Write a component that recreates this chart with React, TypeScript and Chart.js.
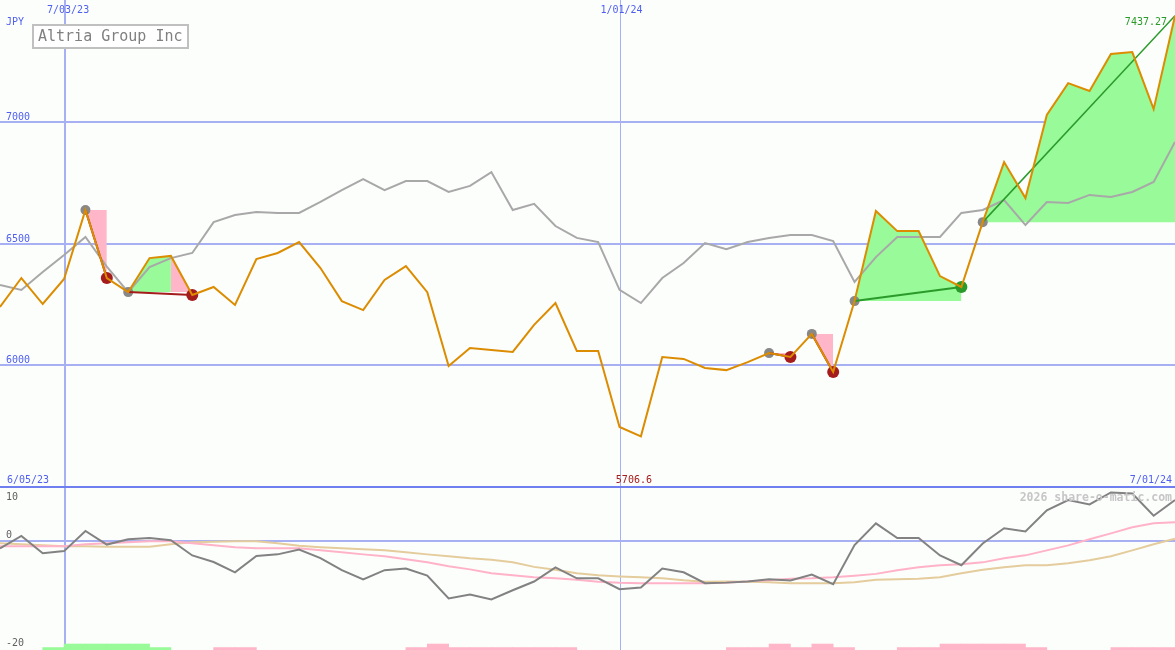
import React, { useEffect, useRef } from "react";
import { Chart, registerables } from "chart.js";

Chart.register(...registerables);

// ---------- data ----------
const weeks = [
  "6/12/23", "6/19/23", "6/26/23", "7/03/23", "7/10/23", "7/17/23", "7/24/23", "7/31/23",
  "8/07/23", "8/14/23", "8/21/23", "8/28/23", "9/04/23", "9/11/23", "9/18/23", "9/25/23",
  "10/02/23", "10/09/23", "10/16/23", "10/23/23", "10/30/23", "11/06/23", "11/13/23", "11/20/23",
  "11/27/23", "12/04/23", "12/11/23", "12/18/23", "12/25/23", "1/01/24", "1/08/24", "1/15/24",
  "1/22/24", "1/29/24", "2/05/24", "2/12/24", "2/19/24", "2/26/24", "3/04/24", "3/11/24",
  "3/18/24", "3/25/24", "4/01/24", "4/08/24", "4/15/24", "4/22/24", "4/29/24", "5/06/24",
  "5/13/24", "5/20/24", "5/27/24", "6/03/24", "6/10/24", "6/17/24", "6/24/24", "7/01/24",
];

const closePrice = [
  6239, 6358, 6251, 6354, 6638, 6358, 6300, 6440, 6449, 6288, 6321, 6247, 6436, 6461,
  6506, 6399, 6263, 6226, 6350, 6407, 6300, 5996, 6070, 6062, 6054, 6165, 6255, 6058,
  6058, 5745, 5706.6, 6033, 6025, 5988, 5979, 6012, 6049, 6033, 6128, 5971, 6263, 6634,
  6551, 6551, 6366, 6321, 6588, 6835, 6687, 7029, 7160, 7128, 7280, 7288, 7053, 7437.27,
];

const trendLine = [
  6329, 6309, 6383, 6453, 6527, 6405, 6300, 6403, 6440, 6461, 6588, 6617, 6630, 6626,
  6626, 6671, 6720, 6765, 6720, 6757, 6757, 6712, 6737, 6794, 6638, 6663, 6572, 6523,
  6506, 6309, 6255, 6358, 6420, 6502, 6477, 6506, 6523, 6535, 6535, 6510, 6342, 6444,
  6527, 6527, 6527, 6626, 6638, 6679, 6576, 6671, 6667, 6700, 6691, 6712, 6753, 6918,
];

const momentum = [
  -1.3, 1.0, -2.2, -1.8, 1.9, -0.6, 0.4, 0.6, 0.2, -2.6, -3.8, -5.7, -2.7, -2.4,
  -1.5, -3.1, -5.3, -7.0, -5.3, -5.0, -6.3, -10.5, -9.8, -10.7, -9.0, -7.4, -4.8, -6.8,
  -6.8, -8.8, -8.5, -5.0, -5.7, -7.7, -7.6, -7.4, -7.0, -7.2, -6.1, -7.9, -0.7, 3.3,
  0.6, 0.6, -2.6, -4.4, -0.4, 2.4, 1.8, 5.7, 7.6, 6.8, 9.0, 8.8, 4.7, 7.6,
];

const momentumFast = [
  -0.92, -0.92, -0.92, -0.92, -0.55, -0.37, -0.18, 0, 0, -0.37, -0.74, -1.1, -1.29, -1.29,
  -1.29, -1.66, -2.03, -2.4, -2.76, -3.31, -3.87, -4.6, -5.16, -5.89, -6.26, -6.63, -6.81, -7.09,
  -7.46, -7.64, -7.73, -7.73, -7.73, -7.73, -7.64, -7.37, -7.18, -6.9, -6.81, -6.63, -6.35, -5.99,
  -5.34, -4.79, -4.42, -4.24, -3.87, -3.13, -2.58, -1.66, -0.74, 0.37, 1.47, 2.58, 3.31, 3.5,
];

const momentumSlow = [
  -0.37, -0.55, -0.74, -0.92, -0.92, -1.01, -1.01, -1.01, -0.55, -0.18, -0.09, 0, 0, -0.37,
  -0.83, -1.1, -1.29, -1.47, -1.66, -2.03, -2.4, -2.76, -3.13, -3.41, -3.87, -4.7, -5.25, -5.89,
  -6.26, -6.45, -6.63, -6.81, -7.18, -7.46, -7.37, -7.46, -7.55, -7.73, -7.73, -7.73, -7.55, -7.09,
  -7.0, -6.9, -6.63, -5.89, -5.25, -4.79, -4.42, -4.42, -4.05, -3.5, -2.76, -1.66, -0.55, 0.46,
];

// signal strip per week interval: positive = green, negative = pink
const signalStrip = [
  0, 0, 0.45, 1.1, 1.1, 1.1, 1.1, 0.45, 0, 0, -0.45, -0.45, 0, 0,
  0, 0, 0, 0, 0, -0.45, -1.1, -0.45, -0.45, -0.45, -0.45, -0.45, -0.45, 0,
  0, 0, 0, 0, 0, 0, -0.45, -0.45, -1.1, -0.45, -1.1, -0.45, 0, 0,
  -0.45, -0.45, -1.1, -1.1, -1.1, -1.1, -0.45, 0, 0, 0, -0.45, -0.45, -0.45,
];

const tradeEntry = [4, 6, 36, 38, 40, 46];
const tradeExit = [5, 9, 37, 39, 45, 55];
const tradeOutcome = ["loss", "loss", "loss", "loss", "win", "open"];
// [trade, fromWeek, toWeek, direction]
const tradeFills: [number, number, number, string][] = [
  [0, 4, 5, "down"],
  [1, 6, 8, "up"],
  [1, 8, 9, "down"],
  [2, 36, 37, "down"],
  [3, 38, 39, "down"],
  [4, 40, 45, "up"],
  [5, 46, 55, "up"],
];

const priceTicks = [6000, 6500, 7000];
const lowerTicks = [10, 0, -20];
const markedWeeks = ["7/03/23", "1/01/24"];
const title = "Altria Group Inc";
const currency = "JPY";
const lowerStartLabel = "6/05/23";
const watermark = "2026 share-o-matic.com";

// ---------- styles ----------
const BG = "#fcfefc";
const GRID = "#a6b0f2";
const SEP = "#6f7ff0";
const LABEL = "#4f5ff0";
const ORANGE = "#dc8c00";
const GRAY = "#a8a8a8";
const GREEN_FILL = "#98fa98";
const PINK_FILL = "#ffb6c8";
const RED = "#a41c1c";
const GREEN = "#2a9a2a";
const MONO = "'DejaVu Sans Mono', 'Liberation Mono', monospace";

export default function App() {
  const ref = useRef<HTMLCanvasElement>(null);

  useEffect(() => {
    document.body.style.margin = "0";
    document.body.style.background = BG;
    const canvas = ref.current!;
    const pts = (arr: number[]) => arr.map((v, i) => ({ x: i, y: v }));

    const datasets: any[] = [];

    tradeFills.forEach(([t, from, to, dir]) => {
      const level = closePrice[tradeEntry[t]];
      datasets.push({
        type: "line",
        data: closePrice.map((v, i) => ({ x: i, y: i >= from && i <= to ? v : null })),
        yAxisID: "y",
        borderColor: "rgba(0,0,0,0)",
        borderWidth: 0,
        pointRadius: 0,
        fill: { value: level },
        backgroundColor: dir === "up" ? GREEN_FILL : PINK_FILL,
        spanGaps: false,
        order: 30,
      });
    });

    datasets.push({
      type: "line",
      data: pts(trendLine),
      yAxisID: "y",
      borderColor: GRAY,
      borderWidth: 2,
      pointRadius: 0,
      fill: false,
      order: 20,
    });

    datasets.push({
      type: "line",
      data: tradeEntry.map((i) => ({ x: i, y: closePrice[i] })),
      yAxisID: "y",
      showLine: false,
      pointRadius: 5,
      pointBackgroundColor: "#888888",
      pointBorderWidth: 0,
      pointBorderColor: "#888888",
      order: 15,
    });

    const exitsLoss = tradeExit.filter((_, k) => tradeOutcome[k] === "loss");
    const exitsWin = tradeExit.filter((_, k) => tradeOutcome[k] === "win");
    datasets.push({
      type: "line",
      data: exitsLoss.map((i) => ({ x: i, y: closePrice[i] })),
      yAxisID: "y",
      showLine: false,
      pointRadius: 6,
      pointBackgroundColor: RED,
      pointBorderWidth: 0,
      pointBorderColor: RED,
      order: 14,
    });
    datasets.push({
      type: "line",
      data: exitsWin.map((i) => ({ x: i, y: closePrice[i] })),
      yAxisID: "y",
      showLine: false,
      pointRadius: 6,
      pointBackgroundColor: GREEN,
      pointBorderWidth: 0,
      pointBorderColor: GREEN,
      order: 14,
    });

    tradeEntry.forEach((e, k) => {
      const x = tradeExit[k];
      datasets.push({
        type: "line",
        data: [
          { x: e, y: closePrice[e] },
          { x, y: closePrice[x] },
        ],
        yAxisID: "y",
        borderColor: tradeOutcome[k] === "loss" ? RED : GREEN,
        borderWidth: tradeOutcome[k] === "open" ? 1.5 : 2,
        pointRadius: 0,
        fill: false,
        order: 12,
      });
    });

    datasets.push({
      type: "line",
      data: pts(closePrice),
      yAxisID: "y",
      borderColor: ORANGE,
      borderWidth: 2,
      pointRadius: 0,
      fill: false,
      order: 10,
    });

    // lower panel
    datasets.push({
      type: "line",
      data: pts(momentumSlow),
      yAxisID: "y2",
      borderColor: "#e4cc9c",
      borderWidth: 2,
      pointRadius: 0,
      fill: false,
      order: 12,
    });
    datasets.push({
      type: "line",
      data: pts(momentumFast),
      yAxisID: "y2",
      borderColor: "#ffb2c8",
      borderWidth: 2,
      pointRadius: 0,
      fill: false,
      order: 11,
    });
    datasets.push({
      type: "line",
      data: pts(momentum),
      yAxisID: "y2",
      borderColor: "#828282",
      borderWidth: 2,
      pointRadius: 0,
      fill: false,
      order: 9,
    });

    const greenBars: any[] = [];
    const pinkBars: any[] = [];
    signalStrip.forEach((v, i) => {
      if (v > 0) greenBars.push({ x: i + 0.5, y: [-20, -20 + v] });
      if (v < 0) pinkBars.push({ x: i + 0.5, y: [-20, -20 - v] });
    });
    datasets.push({
      type: "bar",
      data: greenBars,
      yAxisID: "y2",
      backgroundColor: GREEN_FILL,
      borderWidth: 0,
      barPercentage: 1,
      categoryPercentage: 1,
      grouped: false,
      order: 40,
    });
    datasets.push({
      type: "bar",
      data: pinkBars,
      yAxisID: "y2",
      backgroundColor: PINK_FILL,
      borderWidth: 0,
      barPercentage: 1,
      categoryPercentage: 1,
      grouped: false,
      order: 40,
    });

    const decor = {
      id: "decor",
      beforeDraw(chart: any) {
        const { ctx, width, height } = chart;
        ctx.save();
        ctx.fillStyle = BG;
        ctx.fillRect(0, 0, width, height);
        ctx.restore();
      },
      beforeDatasetsDraw(chart: any) {
        const { ctx, width, height } = chart;
        const ys = chart.scales.y;
        const y2 = chart.scales.y2;
        const xs = chart.scales.x;
        ctx.save();
        ctx.fillStyle = GRID;
        priceTicks.forEach((t) => {
          const p = Math.round(ys.getPixelForValue(t));
          ctx.fillRect(0, p - 1, width, 2);
        });
        const z = Math.round(y2.getPixelForValue(0));
        ctx.fillRect(0, z - 1, width, 2);
        markedWeeks.forEach((w, k) => {
          const i = weeks.indexOf(w);
          const p = Math.round(xs.getPixelForValue(i));
          ctx.fillRect(p, 0, k === 0 ? 2 : 1, height);
        });
        ctx.fillStyle = SEP;
        const s = Math.round(y2.getPixelForValue(lowerTicks[0]));
        ctx.fillRect(0, s - 1, width, 2);
        ctx.restore();
      },
      afterDatasetsDraw(chart: any) {
        const { ctx, width, height } = chart;
        const ys = chart.scales.y;
        const y2 = chart.scales.y2;
        const xs = chart.scales.x;
        ctx.save();
        ctx.font = `10px ${MONO}`;
        ctx.textBaseline = "alphabetic";
        ctx.fillStyle = LABEL;
        ctx.textAlign = "left";
        ctx.fillText(currency, 6, 25);
        priceTicks.forEach((t) => {
          const p = Math.round(ys.getPixelForValue(t));
          ctx.fillText(String(t), 6, p - 2);
        });
        const sep = Math.round(y2.getPixelForValue(lowerTicks[0]));
        ctx.textAlign = "center";
        markedWeeks.forEach((w, k) => {
          const i = weeks.indexOf(w);
          const p = xs.getPixelForValue(i);
          ctx.fillText(w, p + (k === 0 ? 4 : 2), 13);
        });
        ctx.textAlign = "left";
        ctx.fillText(lowerStartLabel, 7, sep - 4);
        ctx.textAlign = "right";
        ctx.fillText(weeks[weeks.length - 1], width - 3, sep - 4);
        ctx.fillStyle = "#606060";
        ctx.textAlign = "left";
        ctx.fillText(String(lowerTicks[0]), 6, sep + 13);
        ctx.fillText(String(lowerTicks[1]), 6, Math.round(y2.getPixelForValue(0)) - 3);
        ctx.fillText(String(lowerTicks[2]), 6, height - 4);

        let minI = 0;
        closePrice.forEach((v, i) => {
          if (v < closePrice[minI]) minI = i;
        });
        ctx.fillStyle = RED;
        ctx.textAlign = "center";
        ctx.fillText(String(closePrice[minI]), xs.getPixelForValue(minI) - 7, sep - 4);

        const last = closePrice.length - 1;
        ctx.fillStyle = GREEN;
        ctx.textAlign = "right";
        ctx.fillText(String(closePrice[last]), xs.getPixelForValue(last) - 8, 25);

        ctx.font = `bold 11.5px ${MONO}`;
        ctx.fillStyle = "#c6c6c6";
        ctx.textAlign = "right";
        ctx.fillText(watermark, width - 3, sep + 14);

        ctx.fillStyle = "#ffffff";
        ctx.fillRect(33, 25, 155, 23);
        ctx.strokeStyle = "#c0c0c0";
        ctx.lineWidth = 2;
        ctx.strokeRect(33, 25, 155, 23);
        ctx.font = `15px ${MONO}`;
        ctx.fillStyle = "#808080";
        ctx.textAlign = "left";
        ctx.fillText(title, 38, 41);
        ctx.restore();
      },
    };

    const chart = new Chart(canvas, {
      type: "line",
      data: { datasets },
      options: {
        animation: false,
        responsive: false,
        maintainAspectRatio: false,
        layout: { padding: 0, autoPadding: false },
        plugins: {
          legend: { display: false },
          tooltip: { enabled: false },
          title: { display: false },
        },
        elements: { line: { tension: 0 } },
        scales: {
          x: {
            type: "linear",
            min: 0,
            max: weeks.length - 1,
            offset: false,
            grid: { offset: false },
            display: false,
          },
          y: { type: "linear", min: 4827.2, max: 7502.1, display: false },
          y2: { type: "linear", min: -20, max: 99.63, display: false },
        },
      },
      plugins: [decor],
    });
    return () => chart.destroy();
  }, []);

  return (
    <div style={{ position: "absolute", left: 0, top: 0, width: 1175, height: 650 }}>
      <canvas ref={ref} width={1175} height={650} style={{ display: "block" }} />
    </div>
  );
}
